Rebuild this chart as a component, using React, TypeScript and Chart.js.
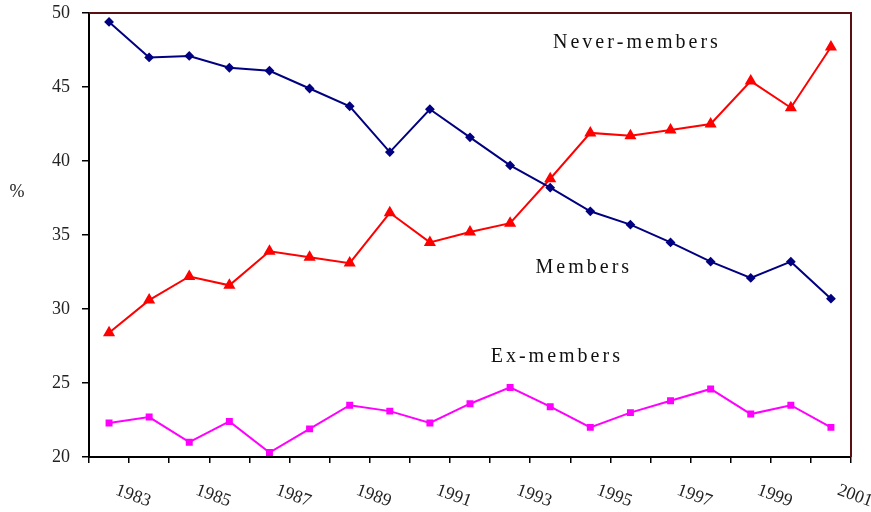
import { useEffect, useRef } from 'react';
import { Chart, registerables } from 'chart.js';

Chart.register(...registerables);

const years = ['1983', '1984', '1985', '1986', '1987', '1988', '1989', '1990', '1991', '1992', '1993', '1994', '1995', '1996', '1997', '1998', '1999', '2000', '2001'];
const members = [49.4, 47.0, 47.1, 46.3, 46.1, 44.9, 43.7, 40.6, 43.5, 41.6, 39.7, 38.2, 36.6, 35.7, 34.5, 33.2, 32.1, 33.2, 30.7];
const neverMembers = [28.4, 30.6, 32.2, 31.6, 33.9, 33.5, 33.1, 36.5, 34.5, 35.2, 35.8, 38.8, 41.9, 41.7, 42.1, 42.5, 45.4, 43.6, 47.7];
const exMembers = [22.3, 22.7, 21.0, 22.4, 20.3, 21.9, 23.5, 23.1, 22.3, 23.6, 24.7, 23.4, 22.0, 23.0, 23.8, 24.6, 22.9, 23.5, 22.0];
const xTickLabels = ['1983', '1985', '1987', '1989', '1991', '1993', '1995', '1997', '1999', '2001'];
const seriesLabels = [
  { text: 'Never-members', year: '1996', value: 48.0, dx: 5 },
  { text: 'Members', year: '1995', value: 32.8, dx: -8 },
  { text: 'Ex-members', year: '1995', value: 26.8, dx: -35 },
];
const yMin = 20;
const yMax = 50;
const yStep = 5;

const SERIF = '"Liberation Serif", "Times New Roman", serif';

function drawSpaced(ctx: CanvasRenderingContext2D, text: string, cx: number, cy: number, spacing: number) {
  const widths = Array.from(text).map((c) => ctx.measureText(c).width);
  const total = widths.reduce((a, b) => a + b, 0) + spacing * (widths.length - 1);
  let x = cx - total / 2;
  ctx.textAlign = 'left';
  ctx.textBaseline = 'middle';
  Array.from(text).forEach((c, i) => {
    ctx.fillText(c, x, cy);
    x += widths[i] + spacing;
  });
}

const decorPlugin = {
  id: 'decor',
  afterDraw(chart: any) {
    const { ctx, chartArea, scales } = chart;
    const xs = scales.x;
    const ys = scales.y;
    ctx.save();
    // top & right frame
    ctx.strokeStyle = '#5a1010';
    ctx.lineWidth = 2;
    ctx.beginPath();
    ctx.moveTo(chartArea.left, chartArea.top);
    ctx.lineTo(chartArea.right, chartArea.top);
    ctx.lineTo(chartArea.right, chartArea.bottom);
    ctx.stroke();

    // x tick labels (rotated)
    ctx.fillStyle = '#222';
    ctx.font = `18px ${SERIF}`;
    xTickLabels.forEach((lab) => {
      const i = years.indexOf(lab);
      const px = xs.getPixelForValue(i) + 24;
      const py = chartArea.bottom + 39;
      ctx.save();
      ctx.translate(px, py);
      ctx.rotate((20 * Math.PI) / 180);
      ctx.textAlign = 'center';
      ctx.textBaseline = 'middle';
      ctx.fillText(lab, 0, 0);
      ctx.restore();
    });

    // y axis title
    ctx.textAlign = 'center';
    ctx.textBaseline = 'middle';
    ctx.fillText('%', 17, 192);

    // series annotations
    ctx.fillStyle = '#111';
    ctx.font = `20px ${SERIF}`;
    seriesLabels.forEach((s) => {
      const px = xs.getPixelForValue(years.indexOf(s.year)) + s.dx;
      const py = ys.getPixelForValue(s.value);
      drawSpaced(ctx, s.text, px, py, 3);
    });
    ctx.restore();
  },
};

export default function App() {
  const ref = useRef<HTMLCanvasElement | null>(null);
  useEffect(() => {
    if (!ref.current) return;
    const chart = new Chart(ref.current, {
      type: 'line',
      data: {
        labels: years,
        datasets: [
          {
            label: 'Members',
            data: members,
            borderColor: '#000080',
            backgroundColor: '#000080',
            borderWidth: 2,
            pointStyle: 'rectRot',
            pointRadius: 3.5,
            tension: 0,
          },
          {
            label: 'Never-members',
            data: neverMembers,
            borderColor: '#ff0000',
            backgroundColor: '#ff0000',
            borderWidth: 2,
            pointStyle: 'triangle',
            pointRadius: 5,
            tension: 0,
          },
          {
            label: 'Ex-members',
            data: exMembers,
            borderColor: '#ff00ff',
            backgroundColor: '#ff00ff',
            borderWidth: 2,
            pointStyle: 'rect',
            pointRadius: 3.5,
            tension: 0,
          },
        ],
      },
      options: {
        responsive: false,
        animation: false,
        devicePixelRatio: 1,
        layout: { padding: { left: 0, top: 13, right: 20, bottom: 0 } },
        plugins: { legend: { display: false }, tooltip: { enabled: false } },
        scales: {
          x: {
            type: 'category',
            offset: true,
            grid: { offset: true, drawOnChartArea: false, drawTicks: true, tickLength: 6, color: '#000', lineWidth: 1.5 },
            border: { display: true, color: '#000', width: 2 },
            ticks: { display: false },
            afterFit: (scale: any) => {
              scale.height = 55;
              scale.paddingLeft = 0;
              scale.paddingRight = 0;
            },
          },
          y: {
            min: yMin,
            max: yMax,
            grid: { drawOnChartArea: false, drawTicks: true, tickLength: 7, color: '#000', lineWidth: 1.5 },
            border: { display: true, color: '#000', width: 2 },
            ticks: {
              stepSize: yStep,
              padding: 12,
              color: '#222',
              font: { family: SERIF, size: 18 },
            },
            afterFit: (scale: any) => {
              scale.width = 89;
              scale.paddingTop = 0;
              scale.paddingBottom = 0;
            },
          },
        },
      },
      plugins: [decorPlugin],
    });
    return () => chart.destroy();
  }, []);
  return (
    <div style={{ position: 'absolute', left: 0, top: 0, width: 871, height: 512, background: '#fff' }}>
      <canvas ref={ref} width={871} height={512} style={{ display: 'block' }} />
    </div>
  );
}
